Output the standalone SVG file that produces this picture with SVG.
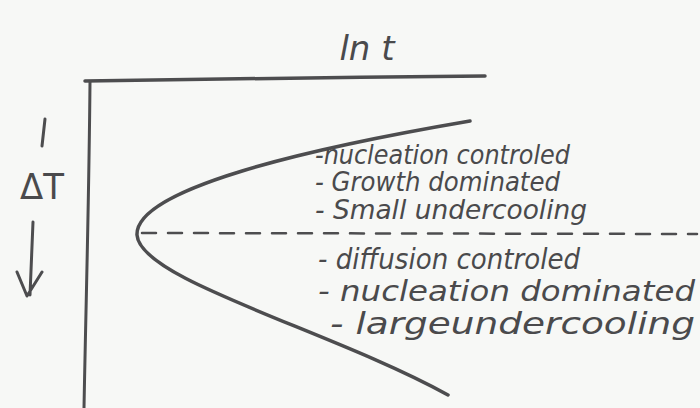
<svg xmlns="http://www.w3.org/2000/svg" width="700" height="408" viewBox="0 0 700 408">
<style>
.ink{fill:none;stroke:#4d4d4f;stroke-linecap:round;stroke-linejoin:round}
.t{font-family:"DejaVu Sans","Liberation Sans",sans-serif;fill:#4a4a4c;font-style:italic}
.up{font-style:normal}
</style>
<rect width="700" height="408" fill="#f7f8f6"/>
<g id="axes">
<path class="ink" stroke-width="3.5" d="M85,81 C200,79 350,77 485,76"/>
<path class="ink" stroke-width="3" d="M90,82 C89,200 86,300 84,408"/>
</g>
<g id="ln-t-label">
<text class="t" x="367" y="60" font-size="34" text-anchor="middle">ln t</text>
</g>
<g id="deltaT-label">
<path class="ink" stroke-width="3" d="M45,119 L42,146"/>
<text class="t up" x="20" y="199" font-size="36" textLength="44" lengthAdjust="spacingAndGlyphs">ΔT</text>
<path class="ink" stroke-width="3" d="M33,222 L30,295 M17,272 L27,296 L42,272"/>
</g>
<g id="curve">
<path class="ink" stroke-width="3.5" d="M470,121 C300,150 135,190 137,235 C140,280 330,330 448,395"/>
</g>
<g id="divider">
<path class="ink" stroke-width="2.5" stroke-dasharray="14 12" d="M142,233 L697,234"/>
</g>
<g id="labels">
<text class="t" x="315" y="164" font-size="27" textLength="255" lengthAdjust="spacingAndGlyphs">-nucleation controled</text>
<text class="t" x="315" y="191" font-size="26" textLength="245" lengthAdjust="spacingAndGlyphs">- Growth dominated</text>
<text class="t" x="315" y="219" font-size="27" textLength="272" lengthAdjust="spacingAndGlyphs">- Small undercooling</text>
<text class="t" x="318" y="269" font-size="28" textLength="262" lengthAdjust="spacingAndGlyphs">- diffusion controled</text>
<text class="t" x="318" y="301" font-size="29" textLength="377" lengthAdjust="spacingAndGlyphs">- nucleation dominated</text>
<text class="t" x="330" y="334" font-size="30" textLength="365" lengthAdjust="spacingAndGlyphs">- largeundercooling</text>
</g>
</svg>
